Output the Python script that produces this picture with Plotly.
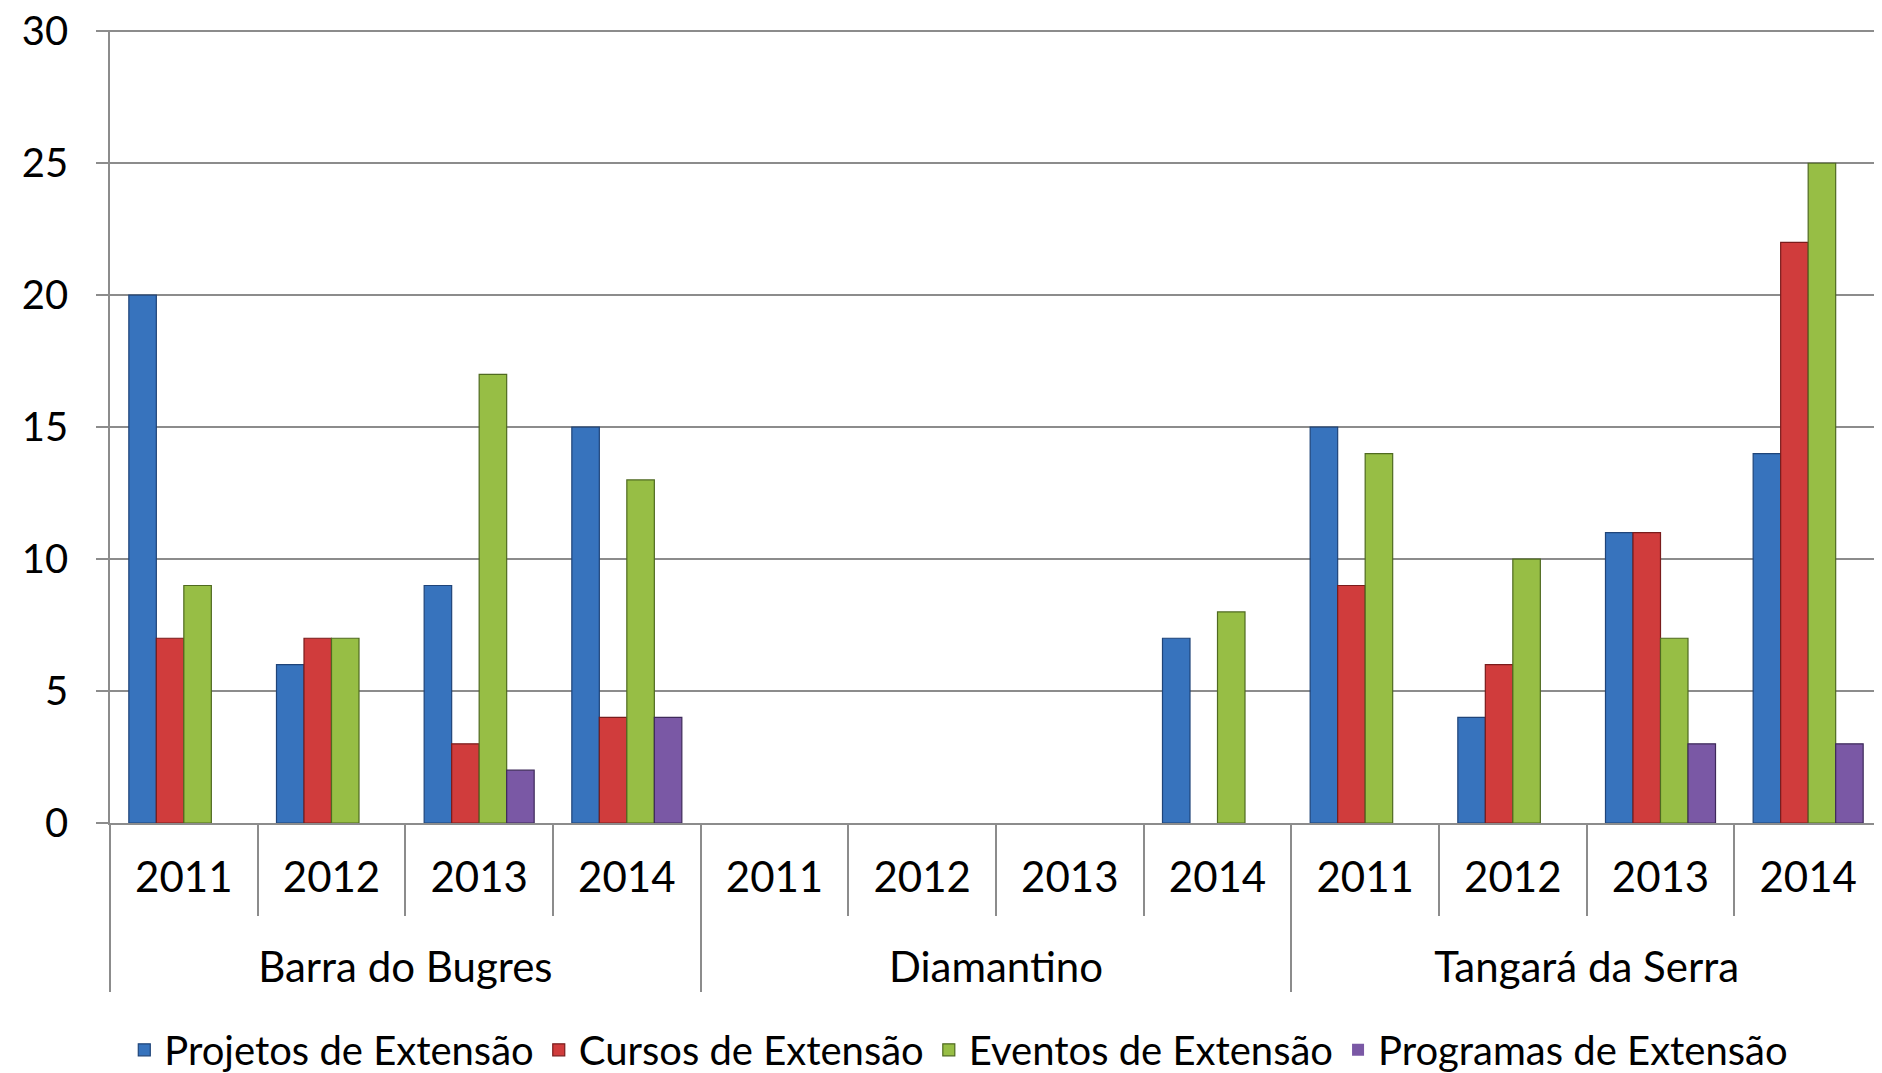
import plotly.graph_objects as go

groups = ["Barra do Bugres"] * 4 + ["Diamantino"] * 4 + ["Tangará da Serra"] * 4
years = ["2011", "2012", "2013", "2014"] * 3

projetos = [20, 6, 9, 15, 0, 0, 0, 7, 15, 4, 11, 14]
cursos = [7, 7, 3, 4, 0, 0, 0, 0, 9, 6, 11, 22]
eventos = [9, 7, 17, 13, 0, 0, 0, 8, 14, 10, 7, 25]
programas = [0, 0, 2, 4, 0, 0, 0, 0, 0, 0, 3, 3]

y_ticks = [0, 5, 10, 15, 20, 25, 30]

series = [
    ("Projetos de Extensão", projetos, "#3773BD", "#1F4479"),
    ("Cursos de Extensão", cursos, "#D03C3C", "#7A1C1C"),
    ("Eventos de Extensão", eventos, "#97BE45", "#4F6A20"),
    ("Programas de Extensão", programas, "#7A58A5", "#3E2A5A"),
]

FONT = "Lato"
# a leading line break sets the group labels one line lower, as in the original
group_labels = ["<br>" + g for g in groups]

fig = go.Figure()
for name, vals, color, edge in series:
    fig.add_trace(go.Bar(
        name=name,
        x=[group_labels, years],
        y=vals,
        marker=dict(color=color,
                    line=dict(color=edge, width=[0 if v == 0 else 1.2 for v in vals])),
    ))

fig.update_layout(
    barmode="group",
    bargap=0.255,
    bargroupgap=0,
    width=1874,
    height=1065,
    margin=dict(l=102, r=0, t=22, b=250, autoexpand=False),
    paper_bgcolor="white",
    plot_bgcolor="white",
    font=dict(family=FONT, size=42, color="black"),
    showlegend=True,
    legend=dict(
        orientation="h",
        x=0.479, xanchor="center",
        y=-0.286, yanchor="middle",
        font=dict(family=FONT, size=40, color="black"),
        itemwidth=30,
        traceorder="normal",
    ),
    xaxis=dict(
        type="multicategory",
        automargin=False,
        showgrid=False,
        showline=True,
        linecolor="#8C8C8C",
        linewidth=1.5,
        ticks="outside",
        tickson="boundaries",
        ticklen=91,
        tickcolor="#8C8C8C",
        tickwidth=1.5,
        ticklabelstandoff=17,
        showdividers=True,
        dividercolor="#8C8C8C",
        dividerwidth=1.5,
        tickfont=dict(family=FONT, size=42, color="black"),
    ),
    yaxis=dict(
        automargin=False,
        range=[0, 30.05],
        tickvals=y_ticks,
        showgrid=True,
        gridcolor="#8C8C8C",
        gridwidth=1.5,
        showline=True,
        linecolor="#8C8C8C",
        linewidth=1.5,
        ticks="outside",
        ticklen=12,
        tickcolor="#8C8C8C",
        tickwidth=1.5,
        zeroline=False,
        ticklabelstandoff=20,
        ticklabeloverflow="allow",
        tickfont=dict(family=FONT, size=40, color="black"),
    ),
)

fig.write_html("out.html")
